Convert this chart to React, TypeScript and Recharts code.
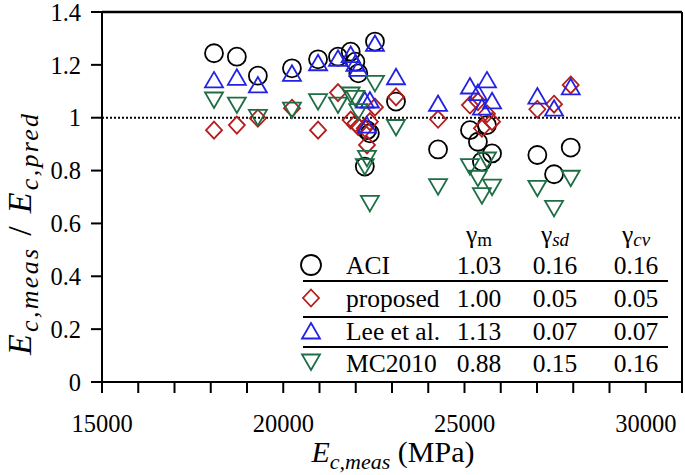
import React from "react";
import {
  ScatterChart,
  Scatter,
  XAxis,
  YAxis,
  ReferenceLine,
  Customized,
} from "recharts";

// measured modulus of each specimen (MPa)
const specimenEc = [
  18090, 18720, 19300, 20240, 20960, 21510, 21860, 21990, 22070, 22250, 22310,
  22390, 22530, 23110, 24270, 25150, 25370, 25480, 25620, 25760, 27010, 27470,
  27930,
];
// Ec,meas / Ec,pred for each model
const aciRatio = [
  1.244, 1.231, 1.159, 1.187, 1.221, 1.231, 1.25, 1.212, 1.168, 0.815, 0.953,
  0.941, 1.288, 1.061, 0.88, 0.953, 0.909, 0.834, 0.972, 0.865, 0.859, 0.786,
  0.887,
];
const proposedRatio = [
  0.953, 0.972, 0.998, 1.036, 0.953, 1.095, 0.991, 0.979, 0.966, 0.96, 0.897,
  0.985, 1.04, 1.079, 0.994, 1.048, 1.061, 0.96, 1.015, 0.985, 1.032, 1.051,
  1.124,
];
const leeRatio = [
  1.143, 1.153, 1.124, 1.168, 1.208, 1.225, 1.239, 1.206, 1.187, 1.067, 0.972,
  1.067, 1.281, 1.155, 1.054, 1.12, 1.095, 1.04, 1.143, 1.064, 1.082, 1.036,
  1.117,
];
const mcRatio = [
  1.067, 1.048, 1.001, 1.029, 1.061, 1.048, 1.086, 1.073, 1.023, 0.815, 0.846,
  0.676, 1.13, 0.963, 0.739, 0.815, 0.771, 0.705, 0.84, 0.737, 0.733, 0.657,
  0.771,
];

const xTicks = [
  15000, 16000, 17000, 18000, 19000, 20000, 21000, 22000, 23000, 24000, 25000,
  26000, 27000, 28000, 29000, 30000, 31000,
];
const yTicks = [0, 0.2, 0.4, 0.6, 0.8, 1, 1.2, 1.4];

// statistics table
const modelNames = ["ACI", "proposed", "Lee et al.", "MC2010"];
const gammaMean = ["1.03", "1.00", "1.13", "0.88"];
const gammaSd = ["0.16", "0.05", "0.07", "0.15"];
const gammaCv = ["0.16", "0.05", "0.07", "0.16"];

const FONT = '"Liberation Serif", "Times New Roman", serif';
const RED = "#b51c1c";
const BLUE = "#2222e6";
const GREEN = "#1d6e45";
const SW = 1.8;

const toPoints = (vals: number[]) =>
  specimenEc.map((x, i) => ({ x, y: vals[i] }));

const CircleMark = ({ cx, cy, r = 9 }: any) => (
  <circle cx={cx} cy={cy} r={r} fill="none" stroke="#000" strokeWidth={SW} />
);
const DiamondMark = ({ cx, cy }: any) => (
  <path
    d={`M${cx},${cy - 8.5}L${cx + 8},${cy}L${cx},${cy + 8.5}L${cx - 8},${cy}Z`}
    fill="none"
    stroke={RED}
    strokeWidth={SW}
  />
);
const UpMark = ({ cx, cy }: any) => (
  <path
    d={`M${cx},${cy - 8}L${cx + 9},${cy + 7.5}L${cx - 9},${cy + 7.5}Z`}
    fill="none"
    stroke={BLUE}
    strokeWidth={SW}
  />
);
const DownMark = ({ cx, cy }: any) => (
  <path
    d={`M${cx},${cy + 8}L${cx + 9},${cy - 7.5}L${cx - 9},${cy - 7.5}Z`}
    fill="none"
    stroke={GREEN}
    strokeWidth={SW}
  />
);

const legendMarks = [CircleMark, DiamondMark, UpMark, DownMark];

const Overlay = () => {
  const colX = [479, 555, 636];
  const rowY = [274, 307, 340, 372];
  const markY = [265, 298, 331, 362];
  const lineY = [281, 317, 347];
  const fs = 25.5;
  return (
    <g fontFamily={FONT} fill="#000">
      <text
        transform="translate(31,355) rotate(-90)"
        fontSize={34}
        letterSpacing={2.3}
      >
        <tspan fontStyle="italic">E</tspan>
        <tspan fontStyle="italic" fontSize={26} dy={7}>
          c,meas
        </tspan>
        <tspan dy={-7}>{"\u00a0/\u00a0"}</tspan>
        <tspan fontStyle="italic">E</tspan>
        <tspan fontStyle="italic" fontSize={26} dy={7}>
          c,pred
        </tspan>
      </text>
      <text x={393} y={462} fontSize={30} textAnchor="middle">
        <tspan fontStyle="italic">E</tspan>
        <tspan fontStyle="italic" fontSize={22} dy={7}>
          c,meas
        </tspan>
        <tspan dy={-7}> (MPa)</tspan>
      </text>

      <text x={colX[0]} y={243} fontSize={fs} textAnchor="middle">
        γ<tspan fontSize={19} dy={3}>m</tspan>
      </text>
      <text x={colX[1]} y={243} fontSize={fs} textAnchor="middle">
        γ<tspan fontSize={19} dy={3} fontStyle="italic">sd</tspan>
      </text>
      <text x={colX[2]} y={243} fontSize={fs} textAnchor="middle">
        γ<tspan fontSize={19} dy={3} fontStyle="italic">cv</tspan>
      </text>

      {modelNames.map((name, i) => {
        const Mark = legendMarks[i];
        return (
          <g key={name}>
            <Mark cx={311} cy={markY[i]} r={10} />
            <text x={346} y={rowY[i]} fontSize={fs}>
              {name}
            </text>
            <text x={colX[0]} y={rowY[i]} fontSize={fs} textAnchor="middle">
              {gammaMean[i]}
            </text>
            <text x={colX[1]} y={rowY[i]} fontSize={fs} textAnchor="middle">
              {gammaSd[i]}
            </text>
            <text x={colX[2]} y={rowY[i]} fontSize={fs} textAnchor="middle">
              {gammaCv[i]}
            </text>
          </g>
        );
      })}
      {lineY.map((y) => (
        <line key={y} x1={303} x2={668} y1={y} y2={y} stroke="#000" strokeWidth={2} />
      ))}
    </g>
  );
};

const tickStyle = { fill: "#000", fontSize: 24.5, fontFamily: FONT };

export default function App() {
  return (
    <div style={{ position: "absolute", left: 0, top: 0, background: "#fff" }}>
      <ScatterChart
        width={685}
        height={475}
        margin={{ top: 12, right: 3, left: 0, bottom: 0 }}
      >
        <XAxis
          type="number"
          dataKey="x"
          domain={[15000, 31000]}
          ticks={xTicks}
          interval={0}
          tickFormatter={(v: number) => (v % 5000 === 0 ? String(v) : "")}
          axisLine={{ stroke: "#000", strokeWidth: 2 }}
          tickLine={{ stroke: "#000", strokeWidth: 2 }}
          tickSize={11}
          tickMargin={22}
          tick={tickStyle}
          height={93}
        />
        <YAxis
          type="number"
          dataKey="y"
          domain={[0, 1.4]}
          ticks={yTicks}
          interval={0}
          tickFormatter={(v: number) => String(Number(v.toFixed(1)))}
          axisLine={{ stroke: "#000", strokeWidth: 2 }}
          tickLine={{ stroke: "#000", strokeWidth: 2 }}
          tickSize={11}
          tickMargin={10}
          tick={tickStyle}
          width={102}
        />
        <ReferenceLine y={1.4} stroke="#000" strokeWidth={2.5} />
        <ReferenceLine x={31000} stroke="#000" strokeWidth={2} />
        <ReferenceLine y={1} stroke="#000" strokeWidth={2} strokeDasharray="2 2" />
        <Scatter data={toPoints(aciRatio)} shape={CircleMark} isAnimationActive={false} />
        <Scatter data={toPoints(proposedRatio)} shape={DiamondMark} isAnimationActive={false} />
        <Scatter data={toPoints(leeRatio)} shape={UpMark} isAnimationActive={false} />
        <Scatter data={toPoints(mcRatio)} shape={DownMark} isAnimationActive={false} />
        <Customized component={Overlay} />
      </ScatterChart>
    </div>
  );
}
